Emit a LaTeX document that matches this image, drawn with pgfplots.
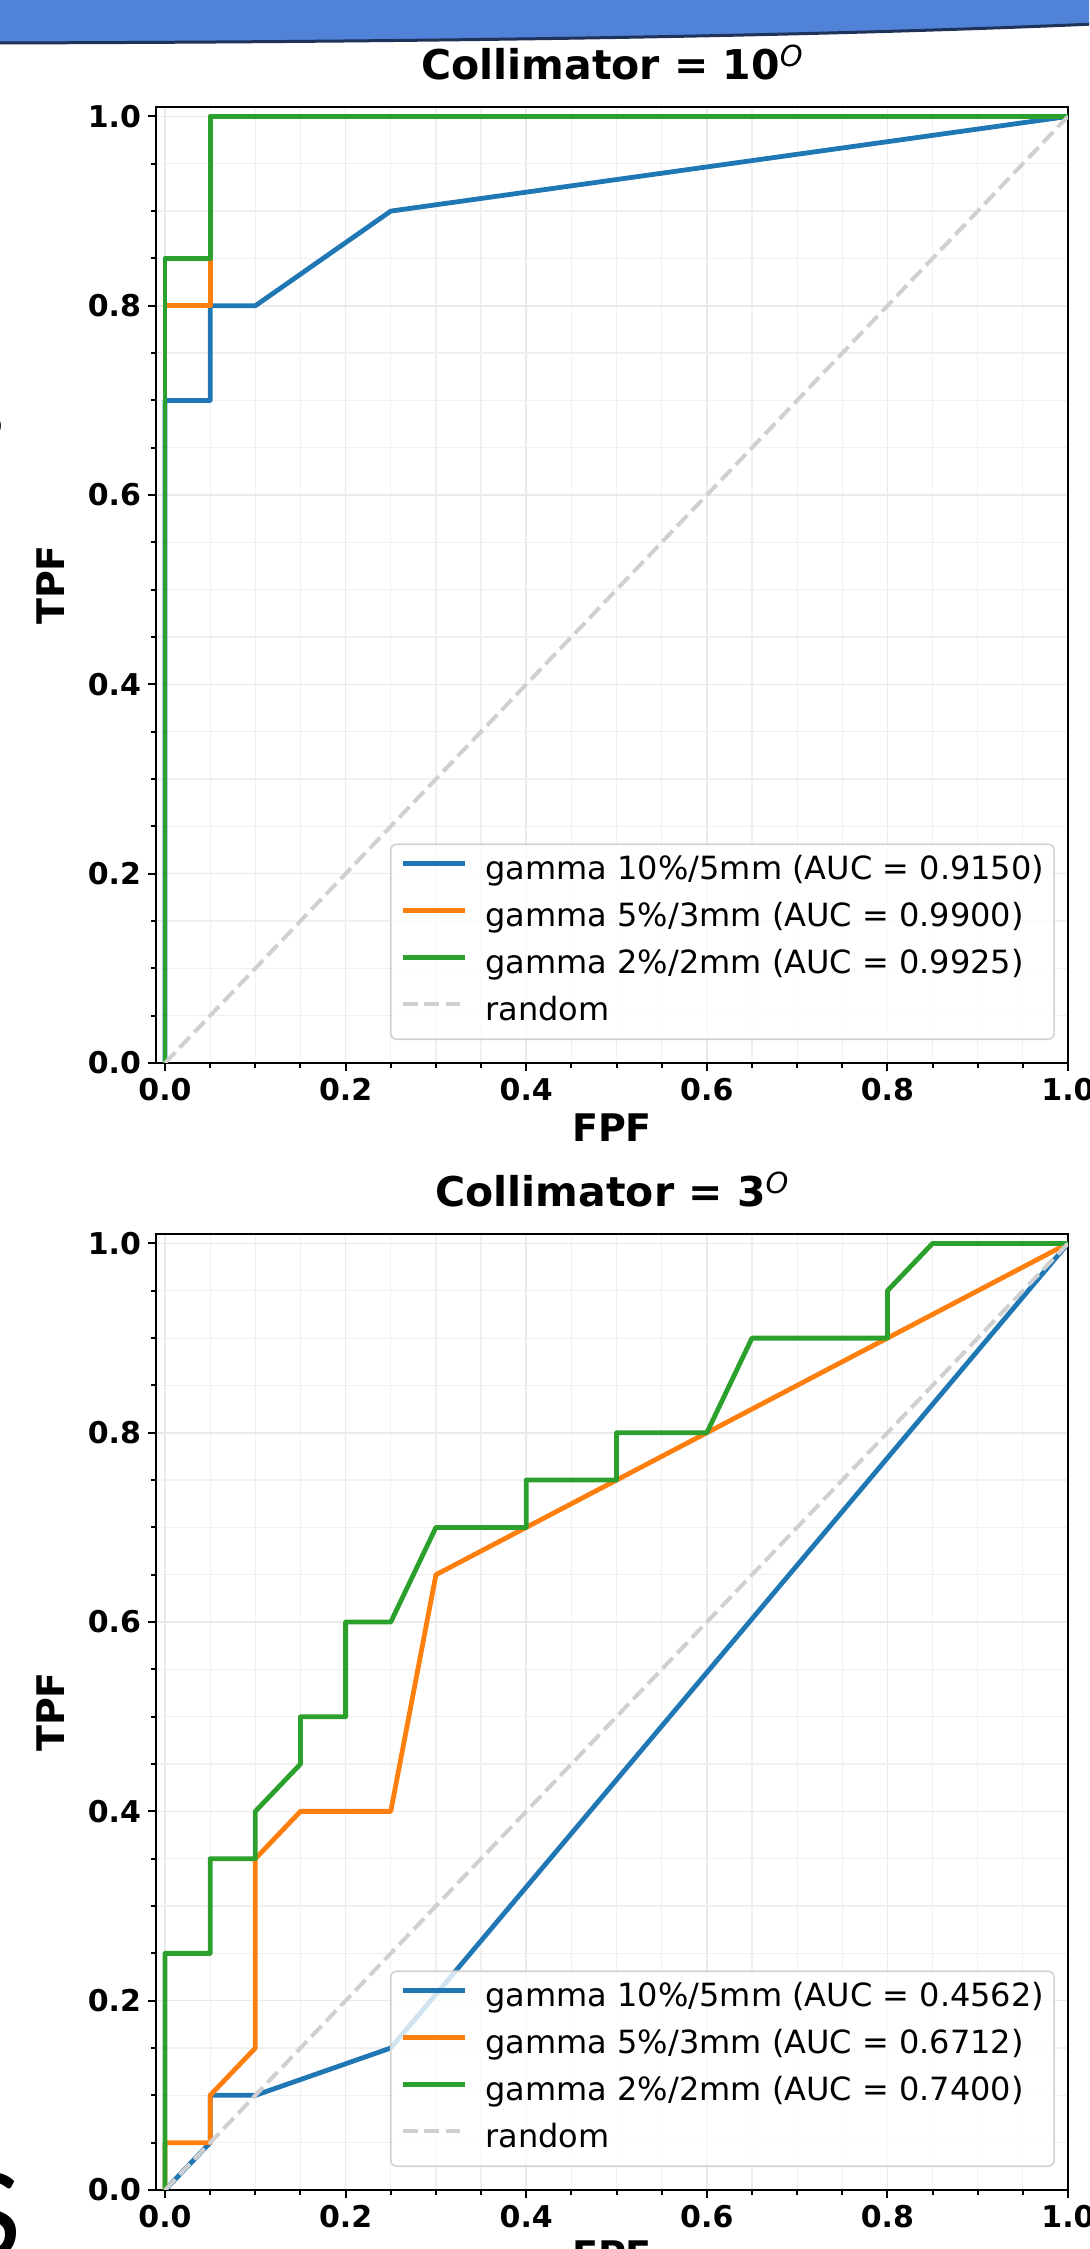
\documentclass[border=0pt]{standalone}
\usepackage{fontspec}
\setmainfont{DejaVu Sans}[ItalicFont={DejaVu Sans Oblique},BoldFont={DejaVu Sans Bold},BoldItalicFont={DejaVu Sans Bold Oblique}]
\newfontfamily\slidefont{Carlito}
\usepackage{pgfplots}
\pgfplotsset{compat=1.18}

\definecolor{tabblue}{HTML}{1F77B4}
\definecolor{taborange}{HTML}{FF7F0E}
\definecolor{tabgreen}{HTML}{2CA02C}
\definecolor{randgray}{HTML}{D0D0D0}
\definecolor{gridgray}{HTML}{EAEAEA}
\definecolor{banner}{RGB}{80,130,215}
\definecolor{bannerline}{RGB}{30,50,90}

\pgfplotsset{
  roc/.style={
    width=456pt, height=478pt, scale only axis,
    xmin=-0.01, xmax=1.0, ymin=0, ymax=1.01,
    xtick={0,0.2,0.4,0.6,0.8,1}, ytick={0,0.2,0.4,0.6,0.8,1},
    minor tick num=3,
    tick align=outside, tick pos=left,
    major tick length=4pt, minor tick length=2.5pt,
    tick style={black, line width=1pt},
    axis line style={line width=1.3pt},
    grid=both,
    major grid style={gridgray, line width=0.75pt},
    minor grid style={gridgray!70, line width=0.6pt},
    tick label style={font=\fontsize{15}{18}\selectfont\bfseries},
    /pgf/number format/assume math mode=true,
    xticklabel style={/pgf/number format/fixed, /pgf/number format/fixed zerofill, /pgf/number format/precision=1},
    yticklabel style={/pgf/number format/fixed, /pgf/number format/fixed zerofill, /pgf/number format/precision=1},
    xlabel={FPF}, ylabel={TPF},
    label style={font=\fontsize{19}{22}\selectfont\bfseries},
    xlabel style={at={(0.5,-0.0524)}, anchor=north, inner sep=0pt},
    ylabel style={at={(-0.1151,0.5)}, anchor=center, inner sep=0pt},
    title style={at={(0.5,1.0167)}, anchor=base, inner sep=0pt, font=\fontsize{20.5}{24}\selectfont\bfseries},
    legend style={
      at={(0.9857,0.024)}, anchor=south east,
      draw=gray!35, line width=0.8pt, rounded corners=3pt,
      fill=white, fill opacity=0.8, text opacity=1, draw opacity=1,
      font=\fontsize{16}{18}\selectfont,
      inner xsep=5pt, inner ysep=6pt, row sep=8.5pt,
      nodes={inner sep=0pt, text height=11.5pt, text depth=3.5pt},
      /tikz/every odd column/.append style={column sep=9pt},
    },
    legend cell align=left,
    legend image code/.code={\draw[#1] (0pt,4pt) -- (31pt,4pt);},
    every axis plot/.append style={line join=round},
  }
}

\begin{document}
\begin{tikzpicture}
\useasboundingbox (0,0) rectangle (544.5pt,1124.5pt);
\clip (0,0) rectangle (544.5pt,1124.5pt);

% slide decorations, in pixels from the top-left corner
\begin{scope}[x=0.5pt,y=-0.5pt,yshift=1124.5pt]
  \fill[banner] (-5,-5) -- (1095,-5) -- (1095,24) .. controls (800,37) and (400,42) .. (-5,43) -- cycle;
  \draw[bannerline, line width=1.5pt] (1095,24) .. controls (800,37) and (400,42) .. (-5,43);
  \node[anchor=east, inner sep=0pt, font=\fontsize{17}{17}\selectfont\bfseries] at (3,426) {o};
  \node[anchor=north east, inner sep=0pt, font=\slidefont\fontsize{66}{66}\selectfont] at (22,2172) {S};
\end{scope}

\begin{axis}[roc, at={(78pt,593pt)}, anchor=south west,
  title={Collimator = 10\raisebox{6.5pt}{\fontsize{14.5}{15}\selectfont\mdseries\itshape O}}]
  \addplot[tabblue, line width=2.4pt] coordinates {(0,0) (0,0.7) (0.05,0.7) (0.05,0.8) (0.1,0.8) (0.25,0.9) (1,1)};
  \addlegendentry{gamma 10\%/5mm (AUC = 0.9150)}
  \addplot[taborange, line width=2.4pt] coordinates {(0,0) (0,0.8) (0.05,0.8) (0.05,1) (1,1)};
  \addlegendentry{gamma 5\%/3mm (AUC = 0.9900)}
  \addplot[tabgreen, line width=2.4pt] coordinates {(0,0) (0,0.85) (0.05,0.85) (0.05,1) (1,1)};
  \addlegendentry{gamma 2\%/2mm (AUC = 0.9925)}
  \addplot[randgray, line width=2pt, dash pattern=on 7.4pt off 3.2pt] coordinates {(0,0) (1,1)};
  \addlegendentry{random}
\end{axis}

\begin{axis}[roc, at={(78pt,29.5pt)}, anchor=south west,
  title={Collimator = 3\raisebox{6.5pt}{\fontsize{14.5}{15}\selectfont\mdseries\itshape O}}]
  \addplot[tabblue, line width=2.4pt] coordinates {(0,0) (0.05,0.05) (0.05,0.1) (0.1,0.1) (0.25,0.15) (1,1)};
  \addlegendentry{gamma 10\%/5mm (AUC = 0.4562)}
  \addplot[taborange, line width=2.4pt] coordinates {(0,0) (0,0.05) (0.05,0.05) (0.05,0.1) (0.1,0.15) (0.1,0.35) (0.15,0.4) (0.25,0.4) (0.3,0.65) (0.4,0.7) (0.8,0.9) (1,1)};
  \addlegendentry{gamma 5\%/3mm (AUC = 0.6712)}
  \addplot[tabgreen, line width=2.4pt] coordinates {(0,0) (0,0.25) (0.05,0.25) (0.05,0.35) (0.1,0.35) (0.1,0.4) (0.15,0.45) (0.15,0.5) (0.2,0.5) (0.2,0.6) (0.25,0.6) (0.3,0.7) (0.4,0.7) (0.4,0.75) (0.5,0.75) (0.5,0.8) (0.6,0.8) (0.65,0.9) (0.8,0.9) (0.8,0.95) (0.85,1) (1,1)};
  \addlegendentry{gamma 2\%/2mm (AUC = 0.7400)}
  \addplot[randgray, line width=2pt, dash pattern=on 7.4pt off 3.2pt] coordinates {(0,0) (1,1)};
  \addlegendentry{random}
\end{axis}
\end{tikzpicture}
\end{document}
